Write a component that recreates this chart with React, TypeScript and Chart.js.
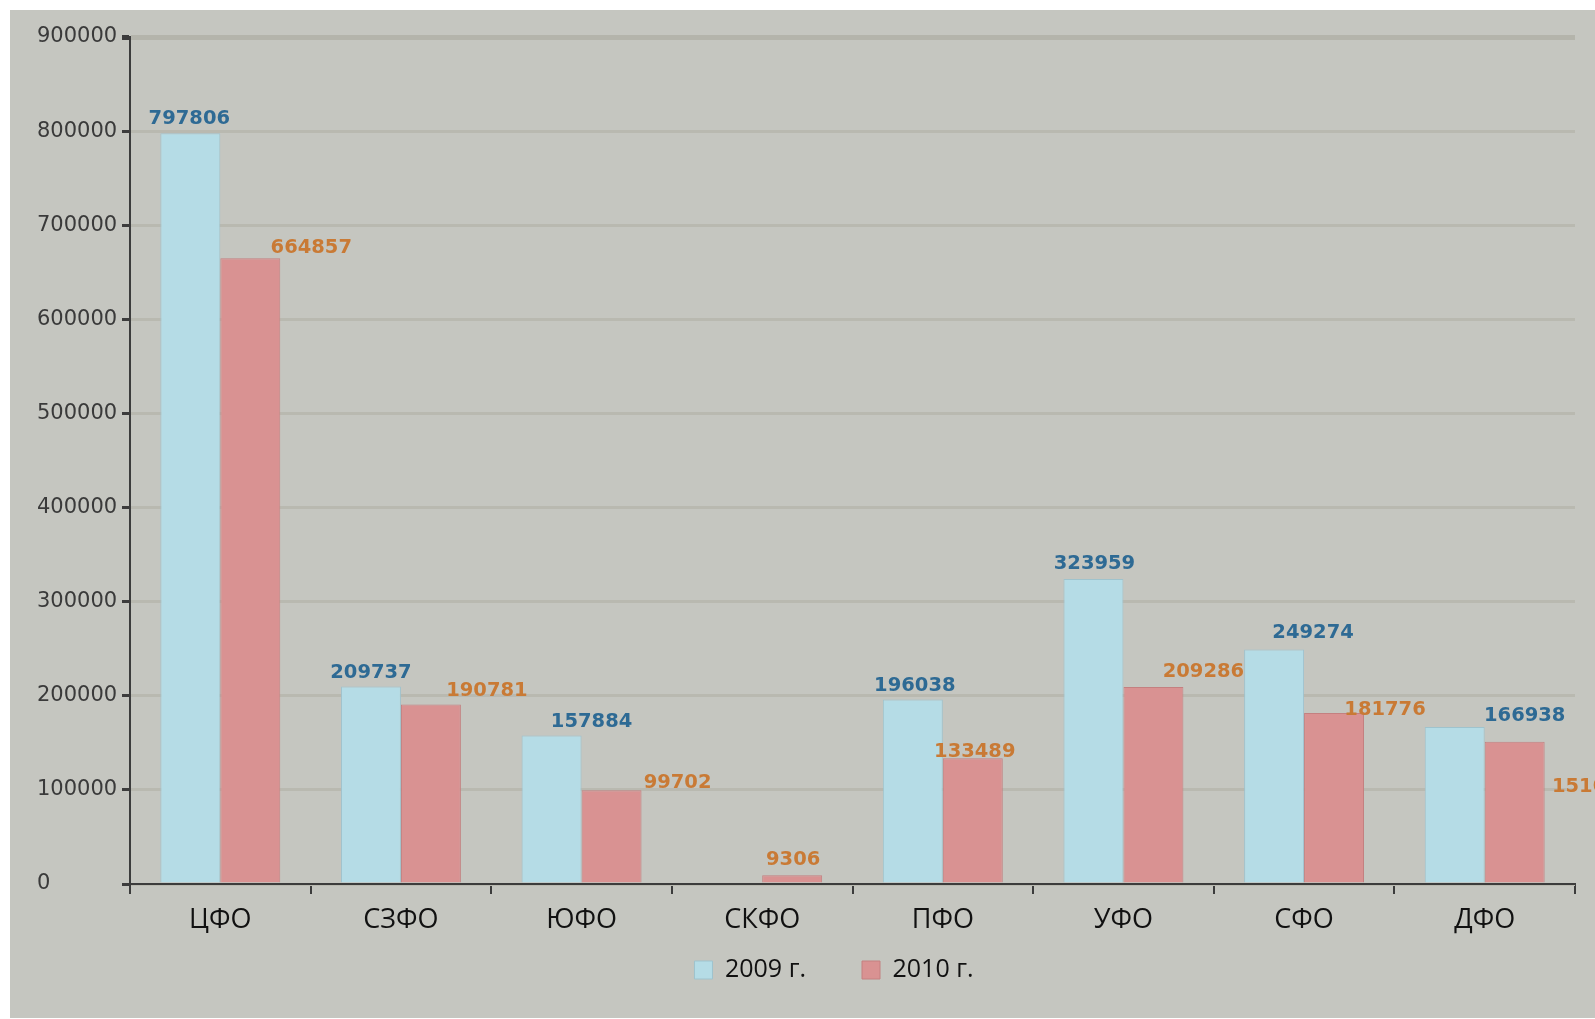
import React, { useEffect, useRef } from 'react';
import { Chart, registerables } from 'chart.js';

Chart.register(...registerables);

// ---- data ----
const categories = ['ЦФО', 'СЗФО', 'ЮФО', 'СКФО', 'ПФО', 'УФО', 'СФО', 'ДФО'];
const seriesNames = ['2009 г.', '2010 г.'];
const values2009: (number | null)[] = [797806, 209737, 157884, null, 196038, 323959, 249274, 166938];
const values2010: (number | null)[] = [664857, 190781, 99702, 9306, 133489, 209286, 181776, 151060];
const yTickValues = [0, 100000, 200000, 300000, 400000, 500000, 600000, 700000, 800000, 900000];

// label nudges (px) relative to the top-centre of each bar, as placed in the original
const labelNudge2009 = [[-1, -14], [0, -14], [40, -13], [0, -14], [2, -14], [1, -15], [39, -16], [70, -11]];
const labelNudge2010 = [[61, -10], [56, -14], [66, -7], [1, -15], [2, -6], [50, -15], [51, -3], [78, 45]];

const BG = '#c5c6c0';
const AXIS = '#3c3c3c';
const W = 1585;
const H = 1008;
const LEGEND_FONT = 25;
const LEGEND_PAD = 56;
const LEGEND_TEXT_Y = 960;
const LEGEND_DX = 28;

const dataLabels = {
  id: 'dataLabels',
  afterDatasetsDraw(chart: any) {
    const ctx = chart.ctx;
    const colors = ['#2e6a94', '#c97a35'];
    const nudges = [labelNudge2009, labelNudge2010];
    ctx.save();
    ctx.font = 'bold 19.5px "DejaVu Sans"';
    ctx.textAlign = 'center';
    ctx.textBaseline = 'middle';
    chart.data.datasets.forEach((ds: any, di: number) => {
      const meta = chart.getDatasetMeta(di);
      meta.data.forEach((el: any, i: number) => {
        const v = ds.data[i];
        if (v === null || v === undefined) return;
        const [dx, dy] = nudges[di][i];
        ctx.fillStyle = colors[di];
        ctx.fillText(String(v), el.x + dx, el.y + dy);
      });
    });
    ctx.restore();
  },
};

const legendPlace = {
  id: 'legendPlace',
  afterLayout(chart: any) {
    const l = chart.legend;
    if (!l) return;
    l.left += LEGEND_DX;
    l.right += LEGEND_DX;
    const top = LEGEND_TEXT_Y - LEGEND_PAD - LEGEND_FONT / 2;
    l.top = top;
    l.bottom = LEGEND_TEXT_Y + 40;
    l.height = l.bottom - l.top;
  },
};

export default function App() {
  const ref = useRef<HTMLCanvasElement | null>(null);

  useEffect(() => {
    if (!ref.current) return;
    const chart = new Chart(ref.current, {
      type: 'bar',
      data: {
        labels: categories,
        datasets: [
          {
            label: seriesNames[0],
            data: values2009,
            backgroundColor: '#b5dce6',
            borderColor: '#9fc3cd',
            borderWidth: 1,
          },
          {
            label: seriesNames[1],
            data: values2010,
            backgroundColor: '#d99292',
            borderColor: '#c48080',
            borderWidth: 1,
          },
        ],
      },
      options: {
        responsive: false,
        animation: false,
        devicePixelRatio: 1,
        layout: { padding: { left: 27, right: 20, top: 27, bottom: 26 } },
        datasets: {
          bar: { categoryPercentage: 0.664, barPercentage: 1 },
        },
        plugins: {
          tooltip: { enabled: false },
          legend: {
            position: 'bottom',
            maxHeight: 48,
            labels: {
              boxWidth: 18,
              boxHeight: 18,
              padding: LEGEND_PAD,
              color: '#111111',
              font: { family: '"Open Sans"', size: LEGEND_FONT },
            },
          },
        },
        scales: {
          x: {
            grid: {
              offset: true,
              drawOnChartArea: false,
              tickLength: 10,
              tickColor: AXIS,
              lineWidth: 2,
            },
            border: { color: AXIS, width: 2 },
            ticks: {
              color: '#111111',
              padding: 10,
              font: { family: '"Open Sans"', size: 27 },
            },
            afterFit(scale: any) {
              scale.height = 60;
            },
          },
          y: {
            min: 0,
            max: 900000,
            afterBuildTicks(scale: any) {
              scale.ticks = yTickValues.map((v) => ({ value: v }));
            },
            grid: {
              color: (c: any) => (c.tick && c.tick.value === 900000 ? '#b4b4ab' : '#b9b9b0'),
              lineWidth: (c: any) => (c.tick && c.tick.value === 900000 ? 5 : 3),
              tickColor: AXIS,
              tickLength: 8,
            },
            border: { color: AXIS, width: 2 },
            ticks: {
              color: '#3a3a3a',
              crossAlign: 'far',
              padding: 4,
              font: { family: '"DejaVu Sans"', size: 21 },
              callback: (v: any) => String(v),
            },
            afterFit(scale: any) {
              scale.width = 93;
            },
          },
        },
      },
      plugins: [dataLabels, legendPlace],
    } as any);
    return () => chart.destroy();
  }, []);

  return (
    <div style={{ position: 'absolute', left: 0, top: 0, width: 1595, height: 1019, background: '#ffffff', overflow: 'hidden' }}>
      <div style={{ position: 'absolute', left: 10, top: 10, width: W, height: H, background: BG }}>
        <canvas ref={ref} width={W} height={H} style={{ display: 'block', width: W, height: H }} />
      </div>
    </div>
  );
}
